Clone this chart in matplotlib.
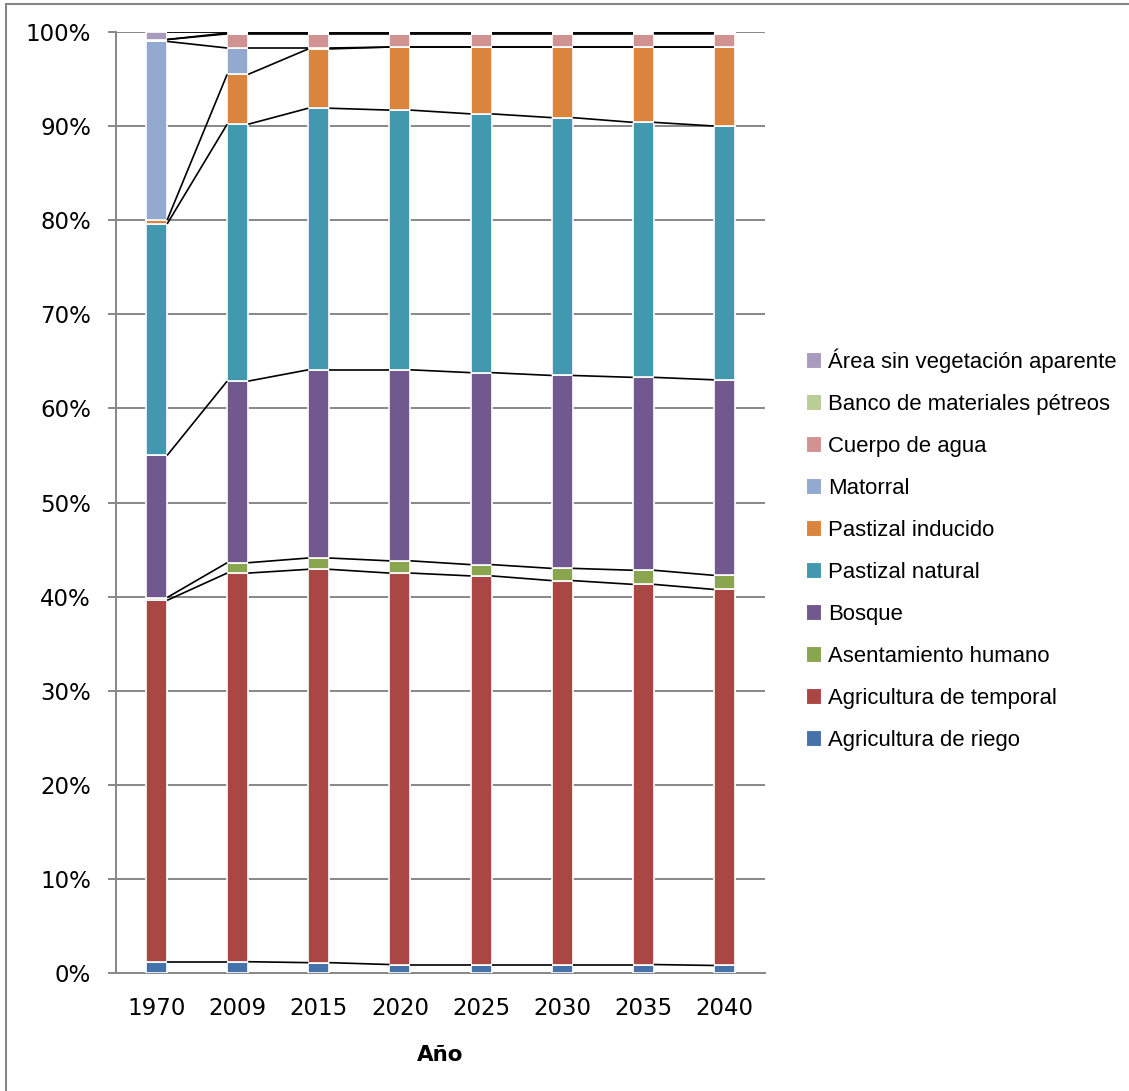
import matplotlib
matplotlib.use("Agg")
import matplotlib.pyplot as plt
import numpy as np
from matplotlib.patches import Patch, Rectangle
from matplotlib.ticker import FuncFormatter

years = ["1970", "2009", "2015", "2020", "2025", "2030", "2035", "2040"]

agricultura_riego = [1.2, 1.2, 1.1, 0.9, 0.9, 0.9, 0.9, 0.8]
agricultura_temporal = [38.4, 41.3, 41.8, 41.6, 41.3, 40.8, 40.4, 40.0]
asentamiento_humano = [0.3, 1.1, 1.2, 1.3, 1.2, 1.3, 1.5, 1.5]
bosque = [15.1, 19.3, 20.0, 20.3, 20.4, 20.5, 20.5, 20.8]
pastizal_natural = [24.6, 27.3, 27.8, 27.6, 27.5, 27.4, 27.1, 27.0]
pastizal_inducido = [0.4, 5.3, 6.3, 6.7, 7.1, 7.5, 8.0, 8.4]
matorral = [19.0, 2.8, 0.1, 0.0, 0.0, 0.0, 0.0, 0.0]
cuerpo_agua = [0.2, 1.5, 1.5, 1.4, 1.4, 1.4, 1.4, 1.4]
banco_materiales = [0.0, 0.1, 0.1, 0.1, 0.1, 0.1, 0.1, 0.1]
area_sin_vegetacion = [0.8, 0.1, 0.1, 0.1, 0.1, 0.1, 0.1, 0.1]

series_names = ["Agricultura de riego", "Agricultura de temporal", "Asentamiento humano",
                "Bosque", "Pastizal natural", "Pastizal inducido", "Matorral",
                "Cuerpo de agua", "Banco de materiales pétreos", "Área sin vegetación aparente"]
series_values = [agricultura_riego, agricultura_temporal, asentamiento_humano, bosque,
                 pastizal_natural, pastizal_inducido, matorral, cuerpo_agua,
                 banco_materiales, area_sin_vegetacion]
colors = ["#4672AB", "#AA4643", "#89A54E", "#71588F", "#4198AF", "#DB843D",
          "#93A9CF", "#D19392", "#B9CD96", "#A99BBD"]

W, H = 1129, 1091
fig = plt.figure(figsize=(W / 100, H / 100), dpi=100)
ax = fig.add_axes([116 / W, 1 - 973 / H, (765 - 116) / W, (973 - 32) / H])

data = np.array(series_values, dtype=float)
pct = data / data.sum(axis=0) * 100.0
x = np.arange(len(years))
bw = 0.26
bottom = np.zeros(len(years))
tops = []
for vals, c in zip(pct, colors):
    ax.bar(x, vals, bw, bottom=bottom, color=c, edgecolor="white", linewidth=1.2, zorder=3)
    bottom = bottom + vals
    tops.append(bottom.copy())

# series lines
for t in tops:
    for i in range(len(years) - 1):
        ax.plot([x[i] + bw / 2, x[i + 1] - bw / 2], [t[i], t[i + 1]],
                color="black", lw=1.2, zorder=4, solid_capstyle="butt")

ax.set_xlim(-0.5, len(years) - 0.5)
ax.set_ylim(0, 100)
ax.set_yticks(np.arange(0, 101, 10))
ax.yaxis.set_major_formatter(FuncFormatter(lambda v, p: f"{int(v)}%"))
ax.set_xticks(x)
ax.set_xticklabels(years)
ax.grid(axis="y", color="#878787", lw=1.4, zorder=0)
ax.set_axisbelow(True)
for s in ["top", "right"]:
    ax.spines[s].set_visible(False)
for s in ["left", "bottom"]:
    ax.spines[s].set_color("#878787")
    ax.spines[s].set_linewidth(1.4)
ax.tick_params(axis="y", length=6, width=1.4, color="#878787", labelsize=16.5, pad=12)
ax.tick_params(axis="x", length=0, labelsize=16.5, pad=17)
for lbl in ax.get_xticklabels() + ax.get_yticklabels():
    lbl.set_fontfamily("DejaVu Sans")
ax.set_xlabel("Año", fontsize=15.5, fontweight="bold", labelpad=18)

handles = [Patch(facecolor=c, edgecolor="white", linewidth=0.8) for c in colors]
leg = fig.legend(handles[::-1], series_names[::-1], loc="center left",
                 bbox_to_anchor=(806 / W, 1 - 549.5 / H), frameon=False,
                 prop={"family": "Liberation Sans", "size": 15.9},
                 handlelength=0.7, handleheight=0.7, handletextpad=0.3,
                 labelspacing=0.95, borderpad=0, borderaxespad=0)

# outer chart border
fig.patches.append(Rectangle((6 / W, -0.1), 1.2, 1.1 - 4 / H, transform=fig.transFigure,
                             fill=False, edgecolor="#878787", lw=1.5))

fig.savefig("out.png", dpi=100)
